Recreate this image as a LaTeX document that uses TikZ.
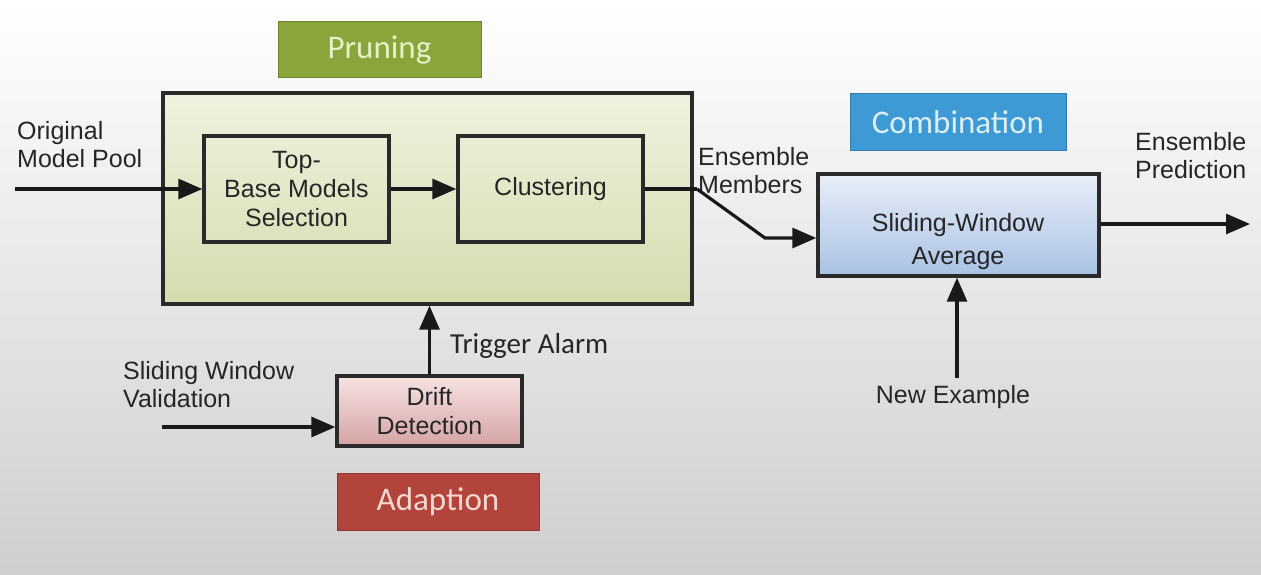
\documentclass[tikz,border=0pt]{standalone}
\usepackage{fontspec}
\setmainfont{Liberation Sans}
\newfontfamily\labfont{Carlito}
\usetikzlibrary{arrows.meta}
\definecolor{bdr}{HTML}{2A2A2A}
\definecolor{prgreen}{HTML}{8AA53C}
\definecolor{prtext}{HTML}{E6F2C6}
\definecolor{cbblue}{HTML}{3E9AD4}
\definecolor{cbtext}{HTML}{DCEEFA}
\definecolor{adred}{HTML}{B2443C}
\definecolor{adtext}{HTML}{F4D8D0}
\definecolor{prtop}{HTML}{F0F2E0}
\definecolor{prbot}{HTML}{D4DCAE}
\definecolor{swtop}{HTML}{E8EEF8}
\definecolor{swbot}{HTML}{A9C2E4}
\definecolor{ddtop}{HTML}{F6E2E2}
\definecolor{ddbot}{HTML}{D5A4A4}
\tikzset{
  box/.style={draw=bdr, line width=3.4pt, inner sep=0pt, align=center,
    font=\fontsize{25}{29}\selectfont, text=black!85},
  tag/.style={inner sep=0pt, align=center, font=\labfont\fontsize{33}{38}\selectfont},
  lbl/.style={inner sep=0pt, font=\fontsize{25}{28}\selectfont, text=black!85},
  conn/.style={draw=black!90, line width=3.2pt, -{Triangle[length=24pt,width=20pt]}},
  plain/.style={draw=black!90, line width=3.2pt}
}
\begin{document}
\begin{tikzpicture}[x=1pt,y=-1pt]
\useasboundingbox (0,0) rectangle (1261,575);
\shade[top color=white, middle color=gray!10, bottom color=gray!38] (0,0) rectangle (1261,575);
% Pruning
\node[tag, fill=prgreen, draw=prgreen!80!black, line width=1pt, text=prtext,
  minimum width=203pt, minimum height=56pt] (prtag) at (379.5,50) {Pruning};
\node[box, top color=prtop, bottom color=prbot,
  minimum width=529pt, minimum height=211pt] (prbox) at (427.5,198.5) {};
\node[box, minimum width=185pt, minimum height=106pt] (top) at (296.5,189)
  {Top-\\Base Models\\Selection};
\node[box, minimum width=185pt, minimum height=106pt] (clu) at (550.5,189)
  {Clustering};
% Combination
\node[tag, fill=cbblue, draw=cbblue!80!black, line width=1pt, text=cbtext,
  minimum width=216pt, minimum height=57pt] (cbtag) at (958,122) {Combination};
\node[box, top color=swtop, bottom color=swbot,
  minimum width=281pt, minimum height=102pt] (swa) at (958.5,225) {};
\node[lbl, align=center, font=\fontsize{25}{33}\selectfont] (swatext) at (958,242) {Sliding-Window\\Average};
% Adaption
\node[tag, fill=adred, draw=adred!80!black, line width=1pt, text=adtext,
  minimum width=202pt, minimum height=57pt] (adtag) at (438,501.5) {Adaption};
\node[box, top color=ddtop, bottom color=ddbot,
  minimum width=185pt, minimum height=70pt] (dd) at (429.5,411) {Drift\\Detection};
% labels
\node[lbl, align=left, anchor=north west] (omp) at (17,121) {Original\\Model Pool};
\node[lbl, align=left, anchor=north west] (em) at (698,147) {Ensemble\\Members};
\node[lbl, align=left, anchor=north west] (ep) at (1135,132) {Ensemble\\Prediction};
\node[lbl, align=left, anchor=north west] (swv) at (123,361) {Sliding Window\\Validation};
\node[lbl] (ne) at (953,397) {New Example};
\node[inner sep=0pt, font=\labfont\fontsize{29}{33}\selectfont, text=black!85, anchor=west] (ta) at (450,346) {Trigger Alarm};
% coordinates
\coordinate (in0) at (15,189);
\coordinate (out1) at (1250,224);
\coordinate (em1) at (697,189);
\coordinate (em2) at (765,238);
\coordinate (swv0) at (162,427);
\coordinate (ne0) at (957,378);
% connectors
\draw[conn] (in0) -- (top.west);
\draw[conn] (top.east) -- (clu.west);
\draw[plain] (clu.east) -- (em1);
\draw[conn] (em1) -- (em2) -- (em2 -| swa.west);
\draw[conn] (swa.east |- out1) -- (out1);
\draw[conn] (ne0) -- (ne0 |- swa.south);
\draw[conn] (swv0) -- (swv0 -| dd.west);
\draw[conn] (dd.north) -- (dd.north |- prbox.south);
\end{tikzpicture}
\end{document}
